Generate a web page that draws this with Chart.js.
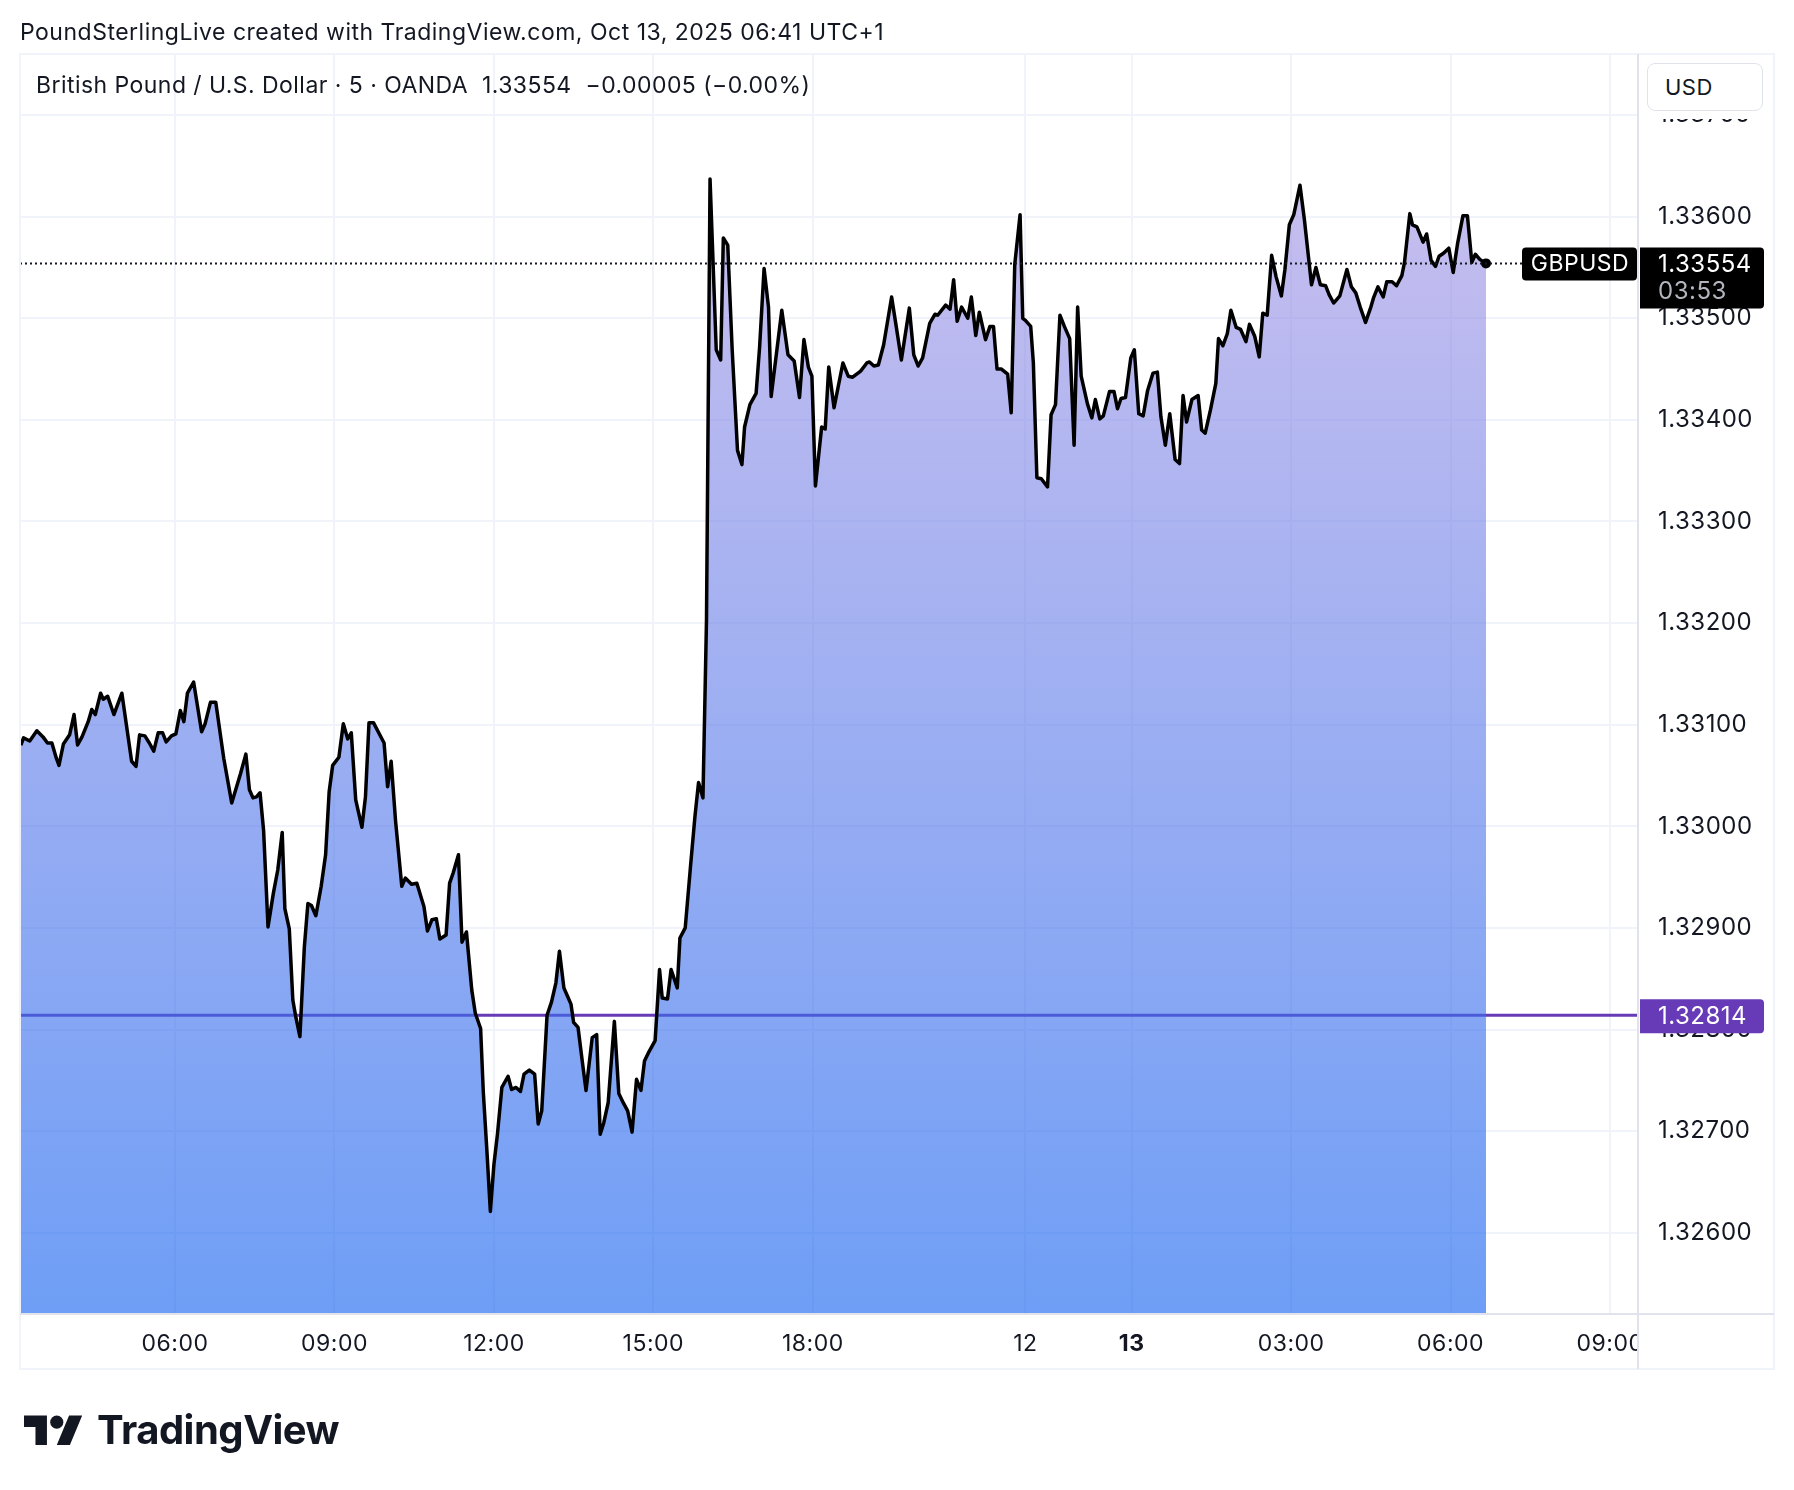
<!DOCTYPE html>
<html>
<head>
<meta charset="utf-8">
<title>GBPUSD 5m</title>
<script src="https://cdn.jsdelivr.net/npm/chart.js@4.4.1/dist/chart.umd.min.js"></script>
<style>
  body { margin: 0; background: #fff; font-family: Inter, sans-serif; color: #131722; }
  #wrap { position: relative; width: 1794px; height: 1490px; overflow: hidden; }
  #wrap canvas { position: absolute; left: 0; top: 0; }
  .txt { position: absolute; white-space: nowrap; line-height: 1; }
  #snap { left: 20px; top: 21px; font-size: 23px; letter-spacing: 0.5px; }
  #legend { left: 36px; top: 74px; font-size: 23px; letter-spacing: 0.45px; }
  #usd { position: absolute; left: 1647px; top: 63px; width: 116px; height: 48px; box-sizing: border-box;
         border: 1px solid #e0e3eb; border-radius: 8px; background: #fff; font-size: 22px; letter-spacing: 0.5px;
         padding-left: 17px; line-height: 47px; }
  #logo { position: absolute; left: 24px; top: 1409px; width: 59px; height: 46px; }
  #brand { left: 97px; top: 1410px; font-size: 40px; font-weight: 700; letter-spacing: -0.5px; }
</style>
</head>
<body>
<div id="wrap">
  <canvas id="chart" width="1794" height="1490"></canvas>
  <div class="txt" id="snap">PoundSterlingLive created with TradingView.com, Oct 13, 2025 06:41 UTC+1</div>
  <div class="txt" id="legend">British Pound / U.S. Dollar · 5 · OANDA&nbsp; 1.33554&nbsp; −0.00005 (−0.00%)</div>
  <div id="usd">USD</div>
  <svg id="logo" viewBox="0 0 36 28"><path d="M14 22H7V11H0V4h14v18zM28 22h-8l7.5-18h8L28 22z" fill="#131722"/><circle cx="20" cy="8" r="4" fill="#131722"/></svg>
  <div class="txt" id="brand">TradingView</div>
</div>
<script>
// time axis is in minutes from Fri 10 Oct 00:00 with the weekend removed,
// so Sun 22:00 follows Fri 22:00 (both 1320) and Mon 00:00 is 1440
const friTimes = [186, 189, 196, 204, 211, 216, 221, 226, 229, 234, 241, 246, 250, 255, 262, 266, 270, 276, 279, 284,
  291, 300, 311, 316, 320, 326, 331, 336, 341, 346, 350, 356, 361, 366, 370, 374, 381, 390, 394, 400,
  406, 415, 424, 434, 440, 444, 448, 452, 456, 460, 465, 471, 476, 481, 484, 489, 493, 496, 501, 506,
  510, 514, 519, 525, 530, 534, 538, 545, 550, 555, 559, 564, 571, 575, 579, 584, 596, 600, 604, 609,
  616, 620, 627, 633, 641, 645, 650, 655, 659, 666, 670, 674, 680, 684, 689, 695, 699, 705, 708, 712,
  716, 720, 724, 729, 736, 740, 745, 750, 754, 760, 766, 770, 774, 780, 785, 790, 794, 799, 803, 807,
  810, 815, 820, 824, 831, 836, 840, 844, 849, 856, 861, 866, 871, 876, 881, 886, 890, 895, 902, 907,
  910, 916, 920, 927, 930, 936, 942, 947, 951, 956, 960, 964, 971, 976, 979, 984, 989, 995, 1000, 1003,
  1009, 1016, 1020, 1025, 1030, 1033, 1045, 1052, 1059, 1065, 1070, 1075, 1079, 1083, 1090, 1094, 1098, 1104, 1114, 1120,
  1125, 1134, 1141, 1144, 1149, 1154, 1160, 1169, 1174, 1180, 1189, 1194, 1199, 1204, 1212, 1218, 1221, 1230, 1235, 1239,
  1243, 1248, 1255, 1259, 1264, 1268, 1275, 1280, 1284, 1288, 1293, 1300, 1304, 1308, 1314, 1317];
const friCloses = [1.33080, 1.33087, 1.33084, 1.33094, 1.33088, 1.33082, 1.33082, 1.33067, 1.33060, 1.33081, 1.33090, 1.33110, 1.33080, 1.33088, 1.33103, 1.33115, 1.33110, 1.33131, 1.33125, 1.33128,
  1.33110, 1.33131, 1.33064, 1.33059, 1.33090, 1.33089, 1.33082, 1.33074, 1.33092, 1.33092, 1.33083, 1.33089, 1.33091, 1.33114, 1.33103, 1.33131, 1.33142, 1.33093, 1.33101, 1.33122,
  1.33122, 1.33067, 1.33023, 1.33052, 1.33071, 1.33036, 1.33028, 1.33029, 1.33033, 1.32996, 1.32901, 1.32934, 1.32957, 1.32994, 1.32919, 1.32899, 1.32829, 1.32814, 1.32793, 1.32881,
  1.32924, 1.32922, 1.32912, 1.32941, 1.32972, 1.33034, 1.33060, 1.33068, 1.33101, 1.33086, 1.33092, 1.33026, 1.32999, 1.33029, 1.33102, 1.33102, 1.33082, 1.33039, 1.33064, 1.33005,
  1.32941, 1.32949, 1.32943, 1.32944, 1.32921, 1.32897, 1.32908, 1.32909, 1.32889, 1.32893, 1.32944, 1.32954, 1.32972, 1.32886, 1.32896, 1.32839, 1.32816, 1.32801, 1.32739, 1.32682,
  1.32621, 1.32667, 1.32697, 1.32743, 1.32754, 1.32741, 1.32743, 1.32739, 1.32756, 1.32760, 1.32756, 1.32707, 1.32720, 1.32814, 1.32827, 1.32846, 1.32877, 1.32841, 1.32833, 1.32825,
  1.32807, 1.32802, 1.32767, 1.32740, 1.32792, 1.32795, 1.32697, 1.32708, 1.32728, 1.32808, 1.32737, 1.32728, 1.32720, 1.32699, 1.32751, 1.32740, 1.32769, 1.32778, 1.32789, 1.32859,
  1.32831, 1.32830, 1.32859, 1.32841, 1.32890, 1.32900, 1.32961, 1.33010, 1.33043, 1.33028, 1.33203, 1.33637, 1.33469, 1.33459, 1.33579, 1.33572, 1.33469, 1.33370, 1.33356, 1.33393,
  1.33415, 1.33426, 1.33472, 1.33549, 1.33511, 1.33423, 1.33508, 1.33464, 1.33458, 1.33422, 1.33479, 1.33452, 1.33443, 1.33335, 1.33393, 1.33391, 1.33452, 1.33412, 1.33456, 1.33443,
  1.33442, 1.33448, 1.33456, 1.33457, 1.33453, 1.33454, 1.33474, 1.33521, 1.33493, 1.33459, 1.33510, 1.33464, 1.33453, 1.33461, 1.33495, 1.33504, 1.33503, 1.33513, 1.33509, 1.33538,
  1.33497, 1.33511, 1.33500, 1.33521, 1.33483, 1.33506, 1.33479, 1.33492, 1.33492, 1.33450, 1.33450, 1.33445, 1.33407, 1.33553, 1.33602, 1.33500];

const monTimes = [1320, 1326, 1329, 1333, 1338, 1345, 1349, 1354, 1359, 1364, 1370, 1375, 1379, 1383, 1390, 1395, 1399, 1404, 1408, 1415,
  1420, 1424, 1428, 1433, 1439, 1443, 1448, 1453, 1458, 1464, 1469, 1473, 1478, 1483, 1489, 1494, 1498, 1502, 1508, 1515,
  1519, 1523, 1529, 1535, 1538, 1543, 1548, 1552, 1558, 1563, 1569, 1573, 1579, 1584, 1588, 1593, 1598, 1603, 1609, 1613,
  1618, 1623, 1630, 1635, 1643, 1648, 1653, 1659, 1663, 1668, 1675, 1683, 1688, 1693, 1698, 1704, 1710, 1713, 1718, 1724,
  1728, 1734, 1739, 1745, 1748, 1754, 1757, 1762, 1769, 1773, 1778, 1783, 1787, 1792, 1798, 1803, 1808, 1814, 1819, 1824,
  1828, 1833, 1840];
const monCloses = [1.33498, 1.33492, 1.33456, 1.33343, 1.33342, 1.33334, 1.33405, 1.33415, 1.33503, 1.33492, 1.33480, 1.33375, 1.33511, 1.33443, 1.33416, 1.33402, 1.33420, 1.33401, 1.33404, 1.33428,
  1.33428, 1.33411, 1.33421, 1.33422, 1.33461, 1.33469, 1.33406, 1.33404, 1.33429, 1.33446, 1.33447, 1.33403, 1.33375, 1.33406, 1.33361, 1.33357, 1.33424, 1.33398, 1.33420, 1.33424,
  1.33390, 1.33387, 1.33410, 1.33436, 1.33480, 1.33473, 1.33485, 1.33508, 1.33491, 1.33489, 1.33477, 1.33494, 1.33482, 1.33462, 1.33505, 1.33503, 1.33562, 1.33541, 1.33522, 1.33548,
  1.33592, 1.33602, 1.33631, 1.33597, 1.33533, 1.33550, 1.33533, 1.33532, 1.33523, 1.33515, 1.33522, 1.33548, 1.33531, 1.33525, 1.33511, 1.33496, 1.33511, 1.33520, 1.33531, 1.33521,
  1.33536, 1.33536, 1.33532, 1.33542, 1.33555, 1.33603, 1.33592, 1.33590, 1.33575, 1.33583, 1.33557, 1.33551, 1.33561, 1.33564, 1.33569, 1.33545, 1.33574, 1.33601, 1.33601, 1.33555,
  1.33563, 1.33558, 1.33554];

const tickMinutes = [360, 540, 720, 900, 1080, 1320, 1440, 1620, 1800, 1980];
const tickLabels = ['06:00', '09:00', '12:00', '15:00', '18:00', '12', '13', '03:00', '06:00', '09:00'];
const priceTicks = [1.326, 1.327, 1.328, 1.329, 1.330, 1.331, 1.332, 1.333, 1.334, 1.335, 1.336, 1.337];

const lastPrice = 1.33554;
const prevClose = 1.32814;
const countdown = '03:53';
const symbol = 'GBPUSD';

const xMin = 185, xMax = 2011.6;

const times = friTimes.concat(monTimes);
const closes = friCloses.concat(monCloses);
const series = times.map((t, i) => ({ x: t, y: closes[i] }));
const lastIdx = series.length - 1;

Chart.defaults.font.family = 'Inter, sans-serif';
Chart.defaults.color = '#131722';

const areaFill = ctx => {
  const chart = ctx.chart;
  const area = chart.chartArea;
  if (!area) return 'transparent';
  const top = chart.scales.y.getPixelForValue(1.3365);
  const g = chart.ctx.createLinearGradient(0, top, 0, area.bottom);
  g.addColorStop(0, 'rgba(166, 150, 228, 0.62)');
  g.addColorStop(1, 'rgba(21, 98, 240, 0.62)');
  return g;
};

const overlay = {
  id: 'overlay',
  beforeDraw(chart) {
    // the reference font sets its figures a little wider than Inter
    chart.ctx.letterSpacing = '0.5px';
  },
  afterDraw(chart) {
    const c = chart.ctx;
    const ys = chart.scales.y;
    c.save();
    // price scale cut-off: last time label and top price label are hidden
    c.fillStyle = '#fff';
    c.fillRect(1639, 1315, 135, 53);
    c.fillRect(1639, 55, 135, 64);

    c.strokeStyle = '#f0f3fa';
    c.lineWidth = 2;
    c.strokeRect(20, 54, 1754, 1315);
    c.strokeStyle = '#e0e3eb';
    c.beginPath();
    c.moveTo(1638, 54); c.lineTo(1638, 1369);
    c.moveTo(20, 1314); c.lineTo(1774, 1314);
    c.stroke();

    c.font = '23px Inter, sans-serif';
    c.textBaseline = 'middle';

    // symbol tag
    const yl = ys.getPixelForValue(lastPrice);
    c.fillStyle = '#000';
    c.beginPath(); c.roundRect(1522, yl - 16, 115, 33, 4); c.fill();
    c.fillStyle = '#fff';
    c.textAlign = 'center';
    c.fillText(symbol, 1580, yl + 1);

    // last price + countdown
    c.fillStyle = '#000';
    c.beginPath(); c.roundRect(1640, yl - 16, 124, 61, [0, 4, 4, 0]); c.fill();
    c.textAlign = 'left';
    c.fillStyle = '#fff';
    c.font = '24px Inter, sans-serif';
    c.fillText(lastPrice.toFixed(5), 1658, yl + 1);
    c.fillStyle = '#b2b5be';
    c.fillText(countdown, 1658, yl + 28);

    // previous close
    const yp = ys.getPixelForValue(prevClose);
    c.fillStyle = '#673ab7';
    c.beginPath(); c.roundRect(1640, yp - 16, 124, 34, [0, 4, 4, 0]); c.fill();
    c.fillStyle = '#fff';
    c.fillText(prevClose.toFixed(5), 1658, yp + 1);
    c.restore();
  }
};

new Chart(document.getElementById('chart'), {
  type: 'line',
  data: {
    datasets: [
      {
        data: series,
        borderColor: '#000',
        borderWidth: 3.5,
        borderJoinStyle: 'round',
        tension: 0,
        fill: 'start',
        backgroundColor: areaFill,
        pointRadius: ctx => ctx.dataIndex === lastIdx ? 5 : 0,
        pointBackgroundColor: '#000',
        pointBorderWidth: 0,
        order: 1
      },
      {
        data: [{ x: xMin, y: prevClose }, { x: xMax, y: prevClose }],
        borderColor: '#673ab7',
        borderWidth: 3,
        pointRadius: 0,
        fill: false,
        order: 2
      },
      {
        data: [{ x: xMin, y: lastPrice }, { x: xMax, y: lastPrice }],
        borderColor: '#131722',
        borderWidth: 2,
        borderDash: [2, 3],
        pointRadius: 0,
        fill: false,
        order: 0
      }
    ]
  },
  options: {
    responsive: false,
    animation: false,
    devicePixelRatio: 1,
    layout: { padding: { left: 20, right: 20, top: 54, bottom: 122 } },
    plugins: { legend: { display: false }, tooltip: { enabled: false } },
    scales: {
      x: {
        type: 'linear',
        min: xMin,
        max: xMax,
        afterBuildTicks: s => { s.ticks = tickMinutes.map(v => ({ value: v })); },
        afterFit: s => { s.height = 54; },
        grid: { color: '#f0f3fa', lineWidth: 2, drawTicks: false },
        border: { display: false },
        ticks: {
          padding: 16,
          autoSkip: false,
          maxRotation: 0,
          color: '#131722',
          font: ctx => ({ size: 23, weight: ctx.tick && ctx.tick.value === 1440 ? 'bold' : 'normal' }),
          callback: v => tickLabels[tickMinutes.indexOf(v)] || ''
        }
      },
      y: {
        position: 'right',
        min: 1.3252,
        max: 1.337601,
        afterBuildTicks: s => { s.ticks = priceTicks.map(v => ({ value: v })); },
        afterFit: s => { s.width = 136; },
        grid: { color: '#f0f3fa', lineWidth: 2, drawTicks: false },
        border: { display: false },
        ticks: {
          padding: 20,
          color: '#131722',
          font: { size: 24 },
          callback: v => v.toFixed(5)
        }
      }
    }
  },
  plugins: [overlay]
});
</script>
</body>
</html>
